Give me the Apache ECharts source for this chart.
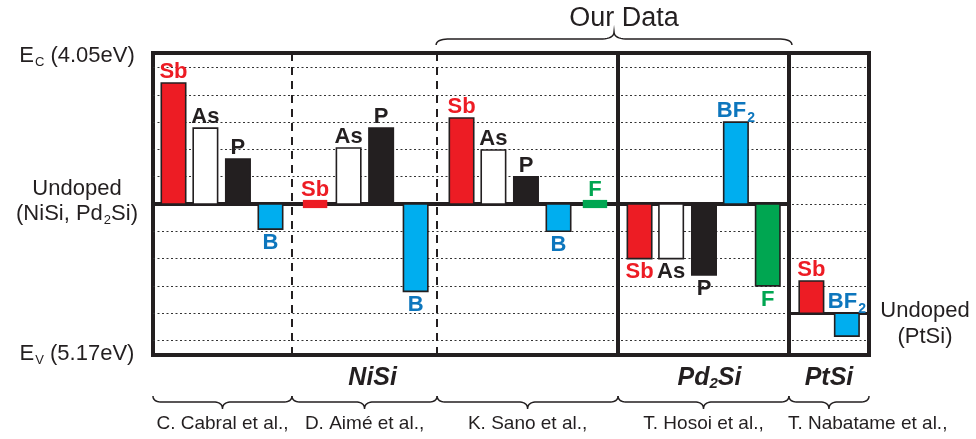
<!DOCTYPE html>
<html>
<head>
<meta charset="utf-8">
<script src="https://cdn.jsdelivr.net/npm/echarts@6/dist/echarts.min.js"></script>
<style>html,body{margin:0;padding:0;background:#fff}#c{width:976px;height:439px}</style>
</head>
<body>
<div id="c"></div>
<script>
// ---------------- DATA ----------------
const studies = ['C. Cabral et al.,', 'D. Aimé et al.,', 'K. Sano et al.,', 'T. Hosoi et al.,', 'T. Nabatame et al.,'];
const dopants = ['Sb','As','P','B', 'Sb','As','P','B', 'Sb','As','P','B','F', 'Sb','As','P','BF2','F', 'Sb','BF2'];
// position of each bar along the (study-ordered) horizontal category scale
const barSlot = [0.63,1.61,2.61,3.61, 4.98,6.01,7.01,8.07, 9.48,10.46,11.46,12.46,13.58, 14.95,15.92,16.93,17.91,18.89, 20.23,21.32];
// level of the undoped reference for each bar (units of 0.1 eV from midgap, + toward Ec)
const barBase = [0,0,0,0, 0,0,0,0, 0,0,0,0,0, 0,0,0,0,0, -4,-4];
// doped level (same units)
const barLevel = [4.43,2.78,1.65,-0.92, 0,2.05,2.78,-3.2, 3.15,1.98,1.0,-1.0,0, -2.0,-2.0,-2.6,3.0,-3.0, -2.82,-4.84];
const labelSide = ['top','top','top','bottom', 'top','top','top','bottom', 'top','top','top','bottom','top', 'bottom','bottom','bottom','top','bottom', 'top','top'];
const gridLevels = [-5,-4,-3,-2,-1,0,1,2,3,4,5];
const studyBounds = [0, 4.27, 8.73, 14.29, 19.54, 22];
const dashedBounds = [4.27, 8.73];
const solidBounds = [14.29, 19.54];
const undopedPtSi = -4;
const yRange = [-5.53, 5.53];
const silicides = ['{b|NiSi}', '{b|Pd}{s|2}{b|Si}', '{b|PtSi}'];
const silicideSlot = [6.75, 17.1, 20.77];

// ---------------- STYLE ----------------
const FONT = '"Liberation Sans", Arial, Helvetica, sans-serif';
const INK = '#231f20';
const dopantStyle = {
  Sb: {fill:'#ed1c24', label:'#ed1c24'},
  As: {fill:'#ffffff', label:INK},
  P:  {fill:INK, label:INK},
  B:  {fill:'#00aeef', label:'#0d76bd'},
  BF2:{fill:'#00aeef', label:'#0d76bd'},
  F:  {fill:'#00a651', label:'#00a651'}
};
const labelText = {Sb:'Sb', As:'As', P:'P', B:'B', F:'F', BF2:'{m|BF}{s|2}'};
const BAR_W = 0.75;

const chart = echarts.init(document.getElementById('c'), null, {renderer:'canvas'});

function renderBar(params, api) {
  const i = params.dataIndex;
  const x = api.value(0), base = api.value(1), lvl = api.value(2);
  let lo = Math.min(base, lvl), hi = Math.max(base, lvl);
  const thin = hi - lo < 0.05;
  if (thin) { lo = base - 0.15; hi = base + 0.15; }
  const p1 = api.coord([x - BAR_W/2, hi]);
  const p2 = api.coord([x + BAR_W/2, lo]);
  const st = dopantStyle[dopants[i]];
  const side = labelSide[i];
  return {
    type: 'rect',
    shape: {x: p1[0], y: p1[1], width: p2[0]-p1[0], height: p2[1]-p1[1]},
    style: {fill: st.fill, stroke: thin ? null : INK, lineWidth: thin ? 0 : 1.6},
    textContent: {
      style: {
        text: labelText[dopants[i]], fill: st.label,
        fontFamily: FONT, fontSize: 22, fontWeight: 'bold', lineHeight: 22,
        rich: {
          m: {fontFamily: FONT, fontSize: 22, fontWeight: 'bold', fill: st.label, lineHeight: 22},
          s: {fontFamily: FONT, fontSize: 14, fontWeight: 'bold', fill: st.label, padding: [13,0,0,1]}
        }
      }
    },
    textConfig: {position: side, distance: side === 'top' ? -1 : 2}
  };
}

const noSym = ['none','none'];
const option = {
  animation: false,
  grid: {left:153, top:53, width:716, height:302, show:true, borderColor:INK, borderWidth:4, backgroundColor:'transparent'},
  xAxis: {type:'value', min:0, max:22, show:false},
  yAxis: {type:'value', min:yRange[0], max:yRange[1], show:false},
  series: [
    {type:'line', data:[], z:1, silent:true,
     markLine:{silent:true, symbol:noSym, label:{show:false}, animation:false,
       lineStyle:{type:[2,2.5], color:'#333', width:1},
       data: gridLevels.map(v=>({yAxis:v}))}},
    {type:'line', data:[], z:2, silent:true,
     markLine:{silent:true, symbol:noSym, label:{show:false}, animation:false,
       lineStyle:{type:[8,6], color:INK, width:2},
       data: dashedBounds.map(v=>({xAxis:v}))}},
    {type:'line', data:[], z:2, silent:true,
     markLine:{silent:true, symbol:noSym, label:{show:false}, animation:false,
       lineStyle:{type:'solid', color:INK, width:4},
       data: solidBounds.map(v=>({xAxis:v}))}},
    {type:'line', data:[], z:3, silent:true,
     markLine:{silent:true, symbol:noSym, label:{show:false}, animation:false,
       lineStyle:{type:'solid', color:INK, width:4},
       data: [[{coord:[0,0]},{coord:[studyBounds[4],0]}]]}},
    {type:'line', data:[], z:3, silent:true,
     markLine:{silent:true, symbol:noSym, label:{show:false}, animation:false,
       lineStyle:{type:'solid', color:INK, width:3},
       data: [[{coord:[studyBounds[4],undopedPtSi]},{coord:[studyBounds[5],undopedPtSi]}]]}},
    {type:'custom', renderItem: renderBar, z:10, clip:false, silent:true,
     data: barSlot.map((x,i)=>[x, barBase[i], barLevel[i]])}
  ]
};
chart.setOption(option);

// ---------------- annotations ----------------
const px = (x,y)=>chart.convertToPixel({gridIndex:0},[x,y]);
function quad(pts, a, c, b){
  for (let t=1;t<=10;t++){
    const u=t/10, v=1-u;
    pts.push([v*v*a[0]+2*v*u*c[0]+u*u*b[0], v*v*a[1]+2*v*u*c[1]+u*u*b[1]]);
  }
}
// dir = +1 : tip downward; dir = -1 : tip upward
function brace(x1,x2,y,dir,r){
  const xm=(x1+x2)/2, h1=6*dir, h2=7*dir;
  const pts=[[x1,y]];
  quad(pts,[x1,y],[x1,y+h1],[x1+r,y+h1]);
  pts.push([xm-r,y+h1]);
  quad(pts,[xm-r,y+h1],[xm,y+h1],[xm,y+h1+h2]);
  quad(pts,[xm,y+h1+h2],[xm,y+h1],[xm+r,y+h1]);
  pts.push([x2-r,y+h1]);
  quad(pts,[x2-r,y+h1],[x2,y+h1],[x2,y]);
  return {type:'polyline', silent:true, z:20, shape:{points:pts}, style:{fill:null, stroke:INK, lineWidth:1.5}};
}
function txt(x,y,text,size,opts){
  opts = opts || {};
  return {type:'text', x:x, y:y, silent:true, z:20,
    style:Object.assign({text:text, fill:INK, fontFamily:FONT, fontSize:size,
      textAlign:'center', textVerticalAlign:'middle', verticalAlign:'middle'}, opts)};
}
const g = [];
const yBot = px(0, yRange[0])[1];
const yTop = px(0, yRange[1])[1];
const y0 = px(0, 0)[1];
for (let k=0;k<studies.length;k++){
  const x1 = px(studyBounds[k],0)[0], x2 = px(studyBounds[k+1],0)[0];
  g.push(brace(x1,x2,yBot+41,1,9));
  if (k === studies.length-1) {
    g.push(txt(x1-1, yBot+69, studies[k], 19, {textAlign:'left'}));
  } else {
    g.push(txt((x1+x2)/2, yBot+69, studies[k], 19));
  }
}
// Our Data brace (Sano + Hosoi)
const oa = px(studyBounds[2],0)[0]-1, ob = px(studyBounds[4],0)[0]+3;
g.push(brace(oa,ob,yTop-8,-1,14));
g.push(txt((oa+ob)/2+10, 19, 'Our Data', 27));
// silicide names
const silRich = {
  b:{fontFamily:FONT, fontSize:25, fontWeight:'bold', fontStyle:'italic', fill:INK, lineHeight:26},
  s:{fontFamily:FONT, fontSize:15, fontWeight:'bold', fontStyle:'italic', fill:INK, padding:[12,0,0,0]}
};
silicides.forEach((s,k)=>{
  g.push(txt(px(silicideSlot[k],0)[0], yBot+23, s, 25, {rich:silRich}));
});
// left band labels
const bandRich = {
  m:{fontFamily:FONT, fontSize:22, fill:INK, lineHeight:24},
  s:{fontFamily:FONT, fontSize:13, fill:INK, padding:[12,0,0,1]}
};
g.push(txt(77, yTop+3, '{m|E}{s|C}{m| (4.05eV)}', 22, {rich:bandRich}));
g.push(txt(77, y0-15, 'Undoped', 22));
g.push(txt(77, y0+10, '{m|(NiSi, Pd}{s|2}{m|Si)}', 22, {rich:bandRich}));
g.push(txt(77, yBot-1, '{m|E}{s|V}{m| (5.17eV)}', 22, {rich:bandRich}));
// right PtSi undoped label
const yPt = px(0, undopedPtSi)[1];
g.push(txt(925, yPt-2, 'Undoped', 22));
g.push(txt(925, yPt+24, '(PtSi)', 22));
chart.setOption({graphic: g});
</script>
</body>
</html>
